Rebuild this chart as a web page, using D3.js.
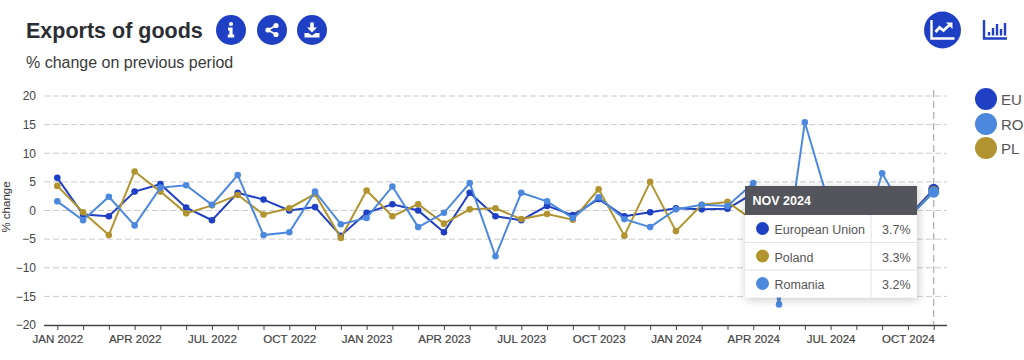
<!DOCTYPE html>
<html>
<head>
<meta charset="utf-8">
<script src="https://cdnjs.cloudflare.com/ajax/libs/d3/7.8.5/d3.min.js"></script>
<style>
html,body{margin:0;padding:0;background:#fff;overflow:hidden}
text{font-family:"Liberation Sans",Arial,sans-serif}
</style>
</head>
<body>
<svg id="c" width="1024" height="360"></svg>
<script>
const months = ["JAN 2022","FEB 2022","MAR 2022","APR 2022","MAY 2022","JUN 2022","JUL 2022","AUG 2022","SEP 2022","OCT 2022","NOV 2022","DEC 2022",
"JAN 2023","FEB 2023","MAR 2023","APR 2023","MAY 2023","JUN 2023","JUL 2023","AUG 2023","SEP 2023","OCT 2023","NOV 2023","DEC 2023",
"JAN 2024","FEB 2024","MAR 2024","APR 2024","MAY 2024","JUN 2024","JUL 2024","AUG 2024","SEP 2024","OCT 2024","NOV 2024"];
const euValues = [5.7,-0.7,-1.0,3.3,4.6,0.5,-1.7,3.1,1.9,0,0.6,-4.4,-0.4,1.1,0,-3.8,3.1,-1,-1.7,0.8,-0.8,2,-1,-0.3,0.4,0.2,0.3,3,-0.5,1,0.5,-1,1.5,-1.1,3.7];
const roValues = [1.6,-1.7,2.4,-2.6,4.0,4.4,1.0,6.2,-4.3,-3.8,3.3,-2.4,-1.3,4.2,-2.9,-0.4,4.8,-8.0,3.1,1.6,-1.3,2.3,-1.5,-2.9,0.2,1.0,0.8,4.8,-16.4,15.4,0.2,-8.7,6.5,-1.3,3.2];
const plValues = [4.3,-0.3,-4.3,6.8,3.3,-0.5,0.9,2.7,-0.7,0.4,2.9,-4.8,3.5,-1,1.1,-2.3,0.2,0.4,-1.5,-0.6,-1.6,3.7,-4.4,5,-3.6,1,1.5,-1.7,1.5,-0.5,1,0.5,-1,-1.2,3.3];
const yTicks = [20,15,10,5,0,-5,-10,-15,-20];
const xLabels = ["JAN 2022","APR 2022","JUL 2022","OCT 2022","JAN 2023","APR 2023","JUL 2023","OCT 2023","JAN 2024","APR 2024","JUL 2024","OCT 2024"];
const legendCodes = ["EU","RO","PL"];
const tooltipTitle = "NOV 2024";
const tooltipNames = ["European Union","Poland","Romania"];
const tooltipValues = ["3.7%","3.3%","3.2%"];

const BLUE="#1f3fc4", LIGHT="#4c89de", GOLD="#b1942f";
const svg=d3.select("#c");
const x=d3.scalePoint().domain(months).range([57.3,933.7]);
const y=d3.scaleLinear().domain([-20,20]).range([325,96]);
const L=44,R=947;

// gridlines
svg.append("g").selectAll("line").data(yTicks.filter(t=>t!==-20)).join("line")
  .attr("x1",L).attr("x2",R).attr("y1",d=>y(d)).attr("y2",d=>y(d))
  .attr("stroke","#cacaca").attr("stroke-width",1).attr("stroke-dasharray","6 3");

// y axis
const ya=svg.append("g").attr("transform",`translate(${L},0)`)
  .call(d3.axisLeft(y).tickValues(yTicks).tickSize(0).tickPadding(8));
ya.select(".domain").remove();
ya.selectAll("text").attr("font-size",12).attr("fill","#444").attr("font-family","Liberation Sans");

// x axis
const xa=svg.append("g").attr("transform",`translate(0,${y(-20)})`)
  .call(d3.axisBottom(x).tickValues(months).tickSize(5).tickSizeOuter(0).tickPadding(5)
    .tickFormat(d=>xLabels.includes(d)?d:""));
xa.select(".domain").attr("d",`M${L},0.5H${R}`).attr("stroke","#444").attr("stroke-width",1.4);
xa.selectAll("line").attr("stroke","#444");
xa.selectAll("text").attr("font-size",11.5).attr("fill","#444").attr("font-family","Liberation Sans")
  .attr("stroke","#444").attr("stroke-width",0.2);

// axis title
svg.append("text").attr("transform","translate(10,207) rotate(-90)").attr("text-anchor","middle")
  .attr("font-size",11.5).attr("fill","#333").text("% change");

// crosshair
svg.append("line").attr("x1",x("NOV 2024")).attr("x2",x("NOV 2024")).attr("y1",90).attr("y2",y(-20))
  .attr("stroke","#aaa").attr("stroke-width",1.2).attr("stroke-dasharray","7 4");

// series: gold and light blue paint above dark blue
const line=d3.line().x((d,i)=>x(months[i])).y(d=>y(d));
[[euValues,BLUE],[plValues,GOLD],[roValues,LIGHT]].forEach(([vals,col])=>{
  const g=svg.append("g");
  g.append("path").datum(vals).attr("d",line).attr("fill","none").attr("stroke",col).attr("stroke-width",2);
  g.selectAll("circle").data(vals).join("circle")
    .attr("cx",(d,i)=>x(months[i])).attr("cy",d=>y(d))
    .attr("r",(d,i)=>i===months.length-1?5.5:3.3).attr("fill",col);
});

// tooltip
const shadow=svg.append("defs").append("filter").attr("id","sh").attr("x","-15%").attr("y","-15%").attr("width","130%").attr("height","130%");
shadow.append("feDropShadow").attr("dx",1).attr("dy",2).attr("stdDeviation",5).attr("flood-color","#000").attr("flood-opacity",0.22);
const tx=745,tw=172,ty=186,th=111.5,hh=29,rh=27.5;
const tip=svg.append("g");
tip.append("rect").attr("x",tx).attr("y",ty).attr("width",tw).attr("height",th).attr("fill","#fff").attr("filter","url(#sh)");
tip.append("rect").attr("x",tx).attr("y",ty).attr("width",tw).attr("height",hh).attr("fill","#54555c");
tip.append("text").attr("x",tx+7.5).attr("y",ty+19).attr("font-size",12.5).attr("font-weight","bold").attr("fill","#fff").text(tooltipTitle);
const dotCols=[BLUE,GOLD,LIGHT];
tooltipNames.forEach((n,i)=>{
  const top=ty+hh+i*rh;
  if(i>0) tip.append("line").attr("x1",tx).attr("x2",tx+tw).attr("y1",top).attr("y2",top).attr("stroke","#e2e2e2");
  tip.append("circle").attr("cx",tx+17.5).attr("cy",top+13.5).attr("r",6.5).attr("fill",dotCols[i]);
  tip.append("text").attr("x",tx+29.5).attr("y",top+19).attr("font-size",12.5).attr("fill","#555").text(n);
  tip.append("text").attr("x",tx+tw-6.5).attr("y",top+19).attr("text-anchor","end").attr("font-size",12.5).attr("fill","#555").text(tooltipValues[i]);
});
tip.append("line").attr("x1",tx+126).attr("x2",tx+126).attr("y1",ty+hh).attr("y2",ty+th).attr("stroke","#e2e2e2");

// legend
legendCodes.forEach((c,i)=>{
  const cy=[99,124,148][i];
  svg.append("circle").attr("cx",986).attr("cy",cy).attr("r",11).attr("fill",[BLUE,LIGHT,GOLD][i]);
  svg.append("text").attr("x",1001).attr("y",cy+5.5).attr("font-size",15).attr("fill","#555").text(c);
});

// heading
svg.append("text").attr("x",26).attr("y",37.5).attr("font-size",21.5).attr("font-weight","bold").attr("fill","#2b2d33").text("Exports of goods");
svg.append("text").attr("x",26).attr("y",67.5).attr("font-size",16).attr("fill","#3a3a3a").text("% change on previous period");

// header buttons
[231,272,312].forEach(cx=>svg.append("circle").attr("cx",cx).attr("cy",30).attr("r",15).attr("fill",BLUE));
// info
const inf=svg.append("g").attr("transform","translate(231,30)");
inf.append("circle").attr("cx",0).attr("cy",-6).attr("r",2.1).attr("fill","#fff");
inf.append("path").attr("d","M-3,-2.5H1.6V4.5H3.2V7.5H-3.2V4.5H-1.6V0.5H-3Z").attr("fill","#fff");
// share
const sh=svg.append("g").attr("transform","translate(272,30)");
sh.append("path").attr("d","M4,-4.5L-4,0L4,4.5").attr("fill","none").attr("stroke","#fff").attr("stroke-width",1.8);
[[4,-4.5],[-4,0],[4,4.5]].forEach(p=>sh.append("circle").attr("cx",p[0]).attr("cy",p[1]).attr("r",2.6).attr("fill","#fff"));
// download
const dl=svg.append("g").attr("transform","translate(312,30)");
dl.append("path").attr("d","M-1.8,-7.5H1.8V-2.5H5L0,2.5L-5,-2.5H-1.8Z").attr("fill","#fff");
dl.append("path").attr("d","M-7.5,3H-3.5L0,5.5L3.5,3H7.5V7.5H-7.5Z").attr("fill","#fff");
// line chart button
svg.append("circle").attr("cx",942.5).attr("cy",30).attr("r",18.5).attr("fill",BLUE);
const lc=svg.append("g").attr("transform","translate(942.5,30)");
lc.append("path").attr("d","M-11,-10V8.5H12").attr("fill","none").attr("stroke","#fff").attr("stroke-width",2.4);
lc.append("path").attr("d","M-7,2L-3,-2.5L1,0.5L7,-5").attr("fill","none").attr("stroke","#fff").attr("stroke-width",2.8);
lc.append("path").attr("d","M3.5,-7.5H10V-1Z").attr("fill","#fff");
// bar chart button
const bc=svg.append("g").attr("transform","translate(995,30)");
bc.append("path").attr("d","M-11,-10V8.5H12").attr("fill","none").attr("stroke",BLUE).attr("stroke-width",2.4);
[[-6,2],[-2,-2],[2,-6],[6,-1],[10,-7]].forEach(b=>bc.append("line").attr("x1",b[0]).attr("x2",b[0]).attr("y1",b[1]).attr("y2",5.5).attr("stroke",BLUE).attr("stroke-width",2.4));
</script>
</body>
</html>
